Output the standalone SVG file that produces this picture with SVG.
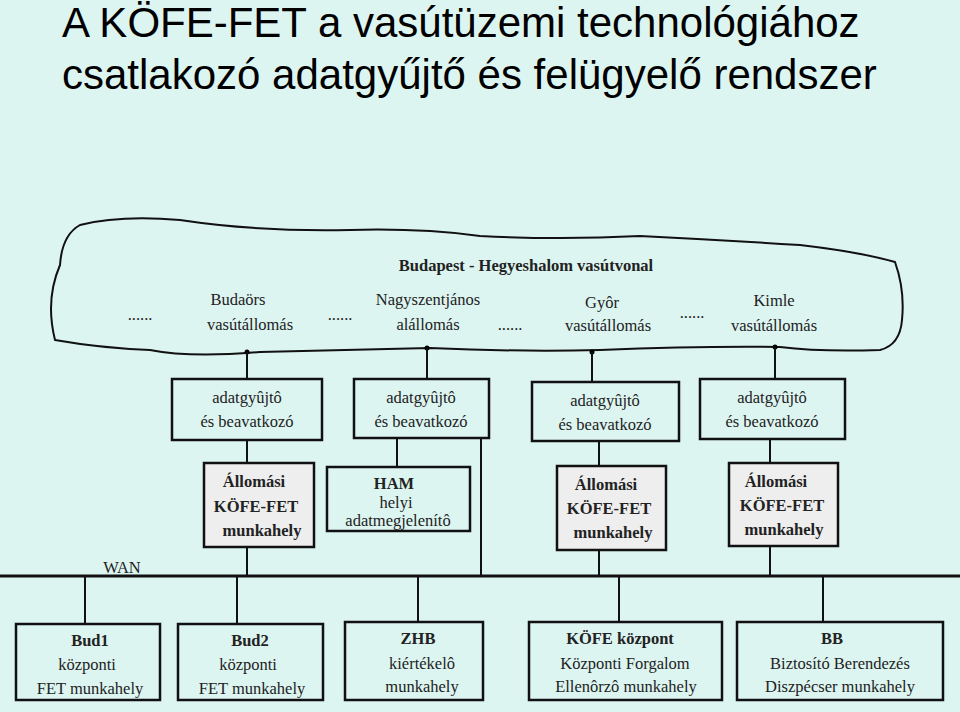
<svg xmlns="http://www.w3.org/2000/svg" width="960" height="712" viewBox="0 0 960 712">
<style>
.t{font-family:'Liberation Serif','Times New Roman','DejaVu Serif',serif;font-size:16.5px;fill:#222;text-anchor:middle}
.b{font-weight:bold}
.box{fill:#ddf5f1;stroke:#111;stroke-width:2.5}
.g{fill:#eeeeee;stroke:#111;stroke-width:2.5}
.ln{stroke:#111;stroke-width:2;fill:none}
</style>
<rect width="960" height="712" fill="#ddf5f1"/>
<text x="62" y="37" font-family="'Liberation Sans',Arial,sans-serif" font-size="42" fill="#000">A KÖFE-FET a vasútüzemi technológiához</text>
<text x="62" y="89" font-family="'Liberation Sans',Arial,sans-serif" font-size="42" fill="#000">csatlakozó adatgyűjtő és felügyelő rendszer</text>
<g id="cloud">
<path class="ln" d="M80,225 Q120,215 180,220 Q260,232 350,230 Q420,228 480,236 Q560,240 640,236 Q720,240 800,245 Q860,252 895,262 Q905,290 902,320 Q900,345 880,350 Q820,352 780,347 Q700,346 600,350 Q520,352 430,348 Q350,350 260,352 Q190,358 150,350 Q100,348 55,340 Q45,300 60,265 Q62,235 80,225 Z"/>
<text class="t" x="140" y="320">......</text>
<text class="t" x="238" y="305">Budaörs</text><text class="t" x="250" y="330">vasútállomás</text>
<text class="t" x="340" y="320">......</text>
<text class="t" x="428" y="305">Nagyszentjános</text><text class="t" x="428" y="330">alállomás</text>
<text class="t" x="510" y="330">......</text>
<text class="t" x="602" y="308">Gyôr</text><text class="t" x="608" y="331">vasútállomás</text>
<text class="t" x="692" y="318">......</text>
<text class="t" x="774" y="306">Kimle</text><text class="t" x="774" y="331">vasútállomás</text>
<text class="t b" x="526" y="271">Budapest - Hegyeshalom vasútvonal</text>
</g>
<g id="connectors">
<circle cx="247" cy="352" r="2.5"/><circle cx="427" cy="348" r="2.5"/><circle cx="592" cy="352" r="2.5"/><circle cx="775" cy="347" r="2.5"/>
<path class="ln" d="M247,352V379 M427,348V379 M592,352V382 M775,347V379"/>
<path class="ln" d="M247,440V463 M247,547V576 M397,438V467 M481,438V576 M599,441V466 M599,550V576 M770,439V463 M770,546V576"/>
<path d="M0,576H960" stroke="#111" stroke-width="3"/>
<path class="ln" d="M85,576V624 M237,576V624 M418,576V622 M619,576V622 M823,576V622"/>
</g>
<text class="t" x="122" y="573">WAN</text>
<g id="a1"><rect class="box" x="172" y="379" width="150" height="61"/><text class="t" x="247" y="403">adatgyûjtô</text><text class="t" x="247" y="427">és beavatkozó</text></g>
<g id="a2"><rect class="box" x="354" y="379" width="135" height="59"/><text class="t" x="421" y="403">adatgyûjtô</text><text class="t" x="421" y="427">és beavatkozó</text></g>
<g id="a3"><rect class="box" x="532" y="382" width="147" height="59"/><text class="t" x="605" y="406">adatgyûjtô</text><text class="t" x="605" y="430">és beavatkozó</text></g>
<g id="a4"><rect class="box" x="700" y="379" width="145" height="60"/><text class="t" x="772" y="403">adatgyûjtô</text><text class="t" x="772" y="427">és beavatkozó</text></g>
<g id="s1"><rect class="g" x="204" y="463" width="110" height="84"/><text class="t b" x="254" y="487">Állomási</text><text class="t b" x="256" y="512">KÖFE-FET</text><text class="t b" x="262" y="536">munkahely</text></g>
<g id="ham"><rect class="box" x="327" y="467" width="143" height="64"/><text class="t b" x="394" y="489">HAM</text><text class="t" x="396" y="508">helyi</text><text class="t" x="398" y="526">adatmegjelenítô</text></g>
<g id="s2"><rect class="g" x="557" y="466" width="109" height="84"/><text class="t b" x="606" y="490">Állomási</text><text class="t b" x="609" y="514">KÖFE-FET</text><text class="t b" x="613" y="538">munkahely</text></g>
<g id="s3"><rect class="g" x="729" y="463" width="109" height="83"/><text class="t b" x="776" y="487">Állomási</text><text class="t b" x="782" y="511">KÖFE-FET</text><text class="t b" x="784" y="535">munkahely</text></g>
<g id="bud1"><rect class="box" x="16" y="624" width="144" height="76"/><text class="t b" x="90" y="646">Bud1</text><text class="t" x="87" y="670">központi</text><text class="t" x="90" y="694">FET munkahely</text></g>
<g id="bud2"><rect class="box" x="178" y="624" width="145" height="76"/><text class="t b" x="250" y="646">Bud2</text><text class="t" x="248" y="670">központi</text><text class="t" x="252" y="694">FET munkahely</text></g>
<g id="zhb"><rect class="box" x="345" y="622" width="138" height="78"/><text class="t b" x="418" y="644">ZHB</text><text class="t" x="422" y="669">kiértékelô</text><text class="t" x="422" y="692">munkahely</text></g>
<g id="kofe"><rect class="box" x="529" y="622" width="193" height="78"/><text class="t b" x="620" y="644">KÖFE központ</text><text class="t" x="625" y="669">Központi Forgalom</text><text class="t" x="626" y="692">Ellenôrzô munkahely</text></g>
<g id="bb"><rect class="box" x="737" y="622" width="206" height="78"/><text class="t b" x="832" y="644">BB</text><text class="t" x="840" y="669">Biztosító Berendezés</text><text class="t" x="840" y="692">Diszpécser munkahely</text></g>
</svg>
